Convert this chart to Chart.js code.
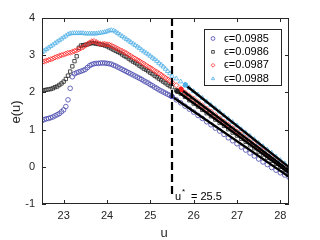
<!DOCTYPE html>
<html>
<head>
<meta charset="utf-8">
<script src="https://cdn.jsdelivr.net/npm/chart.js@4"></script>
<style>
  html, body { margin: 0; padding: 0; background: #fff; }
  canvas { display: block; }
</style>
</head>
<body>
<canvas id="myChart" width="320" height="240"></canvas>
<script>
// sample positions u
const uHead = [22.50, 22.55, 22.60, 22.65, 22.70, 22.75, 22.80, 22.85, 22.90, 22.95,
  23.00, 23.05, 23.10, 23.15, 23.20, 23.25, 23.30, 23.35, 23.40, 23.45,
  23.50, 23.55, 23.60, 23.65, 23.70, 23.75, 23.80, 23.85, 23.90, 23.95,
  24.00, 24.05, 24.10, 24.15, 24.20, 24.25, 24.30, 24.35, 24.40, 24.45,
  24.50, 24.55, 24.60, 24.65, 24.70, 24.75, 24.80, 24.85, 24.90, 24.95,
  25.00, 25.05, 25.10, 25.15, 25.20, 25.25, 25.30, 25.35, 25.40, 25.45,
  25.50];
const uTail = [25.6, 25.7, 25.8, 25.9, 26.0, 26.1, 26.2, 26.3, 26.4, 26.5,
  26.6, 26.7, 26.8, 26.9, 27.0, 27.1, 27.2, 27.3, 27.4, 27.5,
  27.6, 27.7, 27.8, 27.9, 28.0, 28.1, 28.2];
const u = uHead.concat(uTail);

// e(u) for each epsilon
const e0985 = [1.24, 1.27, 1.29, 1.30, 1.32, 1.34, 1.37, 1.40, 1.43, 1.48,
  1.53, 1.62, 1.80, 2.11, 2.42, 2.50, 2.53, 2.55, 2.57, 2.59,
  2.62, 2.67, 2.72, 2.75, 2.77, 2.78, 2.78, 2.79, 2.79, 2.79,
  2.78, 2.77, 2.76, 2.73, 2.71, 2.68, 2.65, 2.62, 2.59, 2.56,
  2.53, 2.50, 2.47, 2.44, 2.41, 2.38, 2.35, 2.31, 2.28, 2.25,
  2.21, 2.18, 2.14, 2.11, 2.07, 2.04, 2.01, 1.98, 1.95, 1.92,
  1.89,
  1.80, 1.72, 1.63, 1.55, 1.47, 1.38, 1.30, 1.21, 1.13, 1.04,
  0.96, 0.87, 0.78, 0.70, 0.62, 0.53, 0.45, 0.37, 0.29, 0.21,
  0.13, 0.06, -0.02, -0.09, -0.16, -0.22, -0.28];
const e0986 = [2.04, 2.06, 2.07, 2.08, 2.09, 2.11, 2.14, 2.16, 2.20, 2.24,
  2.29, 2.36, 2.45, 2.56, 2.70, 2.84, 2.97, 3.20, 3.26, 3.27,
  3.28, 3.29, 3.31, 3.33, 3.32, 3.31, 3.30, 3.29, 3.28, 3.26,
  3.24, 3.21, 3.18, 3.15, 3.12, 3.09, 3.06, 3.02, 2.98, 2.95,
  2.91, 2.87, 2.83, 2.80, 2.76, 2.72, 2.68, 2.64, 2.61, 2.57,
  2.53, 2.49, 2.45, 2.41, 2.37, 2.33, 2.29, 2.25, 2.21, 2.17,
  2.14,
  2.06, 1.97, 1.88, 1.79, 1.70, 1.62, 1.53, 1.44, 1.36, 1.27,
  1.18, 1.10, 1.01, 0.92, 0.84, 0.75, 0.67, 0.58, 0.50, 0.41,
  0.33, 0.24, 0.16, 0.08, 0.00, -0.08, -0.16];
const e0987 = [2.81, 2.83, 2.85, 2.87, 2.89, 2.91, 2.94, 2.96, 2.98, 3.00,
  3.02, 3.04, 3.06, 3.07, 3.09, 3.11, 3.13, 3.16, 3.19, 3.22,
  3.26, 3.30, 3.34, 3.37, 3.38, 3.35, 3.32, 3.30, 3.30, 3.30,
  3.29, 3.28, 3.26, 3.23, 3.20, 3.17, 3.14, 3.11, 3.08, 3.05,
  3.01, 2.98, 2.94, 2.91, 2.87, 2.84, 2.80, 2.77, 2.73, 2.69,
  2.66, 2.62, 2.58, 2.55, 2.51, 2.47, 2.43, 2.39, 2.35, 2.31,
  2.27,
  2.19, 2.10, 2.00, 1.91, 1.83, 1.74, 1.65, 1.56, 1.48, 1.39,
  1.30, 1.21, 1.13, 1.04, 0.95, 0.87, 0.78, 0.69, 0.61, 0.52,
  0.43, 0.35, 0.26, 0.17, 0.08, 0.00, -0.09];
const e0988 = [3.08, 3.12, 3.16, 3.20, 3.24, 3.28, 3.32, 3.36, 3.40, 3.44,
  3.48, 3.52, 3.56, 3.58, 3.59, 3.59, 3.59, 3.59, 3.59, 3.59,
  3.58, 3.58, 3.58, 3.58, 3.58, 3.58, 3.59, 3.60, 3.61, 3.62,
  3.64, 3.66, 3.67, 3.66, 3.63, 3.59, 3.55, 3.51, 3.47, 3.43,
  3.39, 3.35, 3.31, 3.27, 3.23, 3.19, 3.14, 3.10, 3.06, 3.02,
  2.98, 2.93, 2.89, 2.84, 2.79, 2.74, 2.69, 2.63, 2.57, 2.51,
  2.44,
  2.37, 2.29, 2.21, 2.12, 2.03, 1.94, 1.85, 1.75, 1.66, 1.57,
  1.48, 1.38, 1.29, 1.20, 1.11, 1.01, 0.92, 0.83, 0.74, 0.64,
  0.55, 0.46, 0.37, 0.27, 0.18, 0.09, 0.00];

const epsLabels = ['0.0985', '0.0986', '0.0987', '0.0988'];

// linear fits: start point (filled dot) and end value at the right edge
const fitU0 = [25.50, 25.62, 25.71, 25.81];
const fitE0 = [1.89, 2.03, 2.08, 2.20];
const fitU1 = 28.2;
const fitE1 = [-0.27, -0.17, -0.10, -0.01];

const uStar = 25.5;
const uStarBottom = -0.84;

const xTicks = [23, 24, 25, 26, 27, 28];
const yTicks = [-1, 0, 1, 2, 3, 4];

const series = [e0985, e0986, e0987, e0988];
const colors = ['#4646ad', '#222222', '#ff2020', '#4eaee6'];
const shapes = ['circle', 'rect', 'rectRot', 'triangle'];
const radii = [2.3, 2.4, 2.6, 2.6];
const fontFam = '"Liberation Sans", Arial, sans-serif';
const axisColor = '#262626';

const datasets = [];
series.forEach((vals, i) => {
  datasets.push({
    label: '\u03f5=' + epsLabels[i],
    data: u.map((x, k) => ({ x: x, y: vals[k] })),
    showLine: false,
    pointStyle: shapes[i],
    pointRadius: radii[i],
    pointBorderWidth: 0.8,
    borderColor: colors[i],
    backgroundColor: 'rgba(0,0,0,0)',
    order: 13 - i   // later series on top, as in the original
  });
});
series.forEach((vals, i) => {
  datasets.push({
    data: [{ x: fitU0[i], y: fitE0[i] }, { x: fitU1, y: fitE1[i] }],
    showLine: true,
    borderColor: '#000',
    borderWidth: 2.4,
    pointRadius: 0,
    order: 3
  });
});
series.forEach((vals, i) => {
  datasets.push({
    data: [{ x: fitU0[i], y: fitE0[i] }],
    showLine: false,
    pointStyle: 'circle',
    pointRadius: 2.6,
    pointBorderWidth: 0,
    backgroundColor: colors[i],
    borderColor: colors[i],
    order: 2
  });
});
datasets.push({
  data: [{ x: uStar, y: 4 }, { x: uStar, y: uStarBottom }],
  showLine: true,
  borderColor: '#000',
  borderWidth: 2.2,
  borderDash: [8, 4],
  pointRadius: 0,
  order: 1
});

const axesPlugin = {
  id: 'matlabAxes',
  afterDraw(chart) {
    const { ctx, chartArea: a, scales } = chart;
    const x = scales.x, y = scales.y;
    ctx.save();
    ctx.strokeStyle = axisColor;
    ctx.lineWidth = 1;
    ctx.strokeRect(a.left + 0.5, a.top + 0.5, a.right - a.left - 1, a.bottom - a.top - 1);

    ctx.beginPath();
    xTicks.forEach(v => {
      const px = Math.round(x.getPixelForValue(v)) + 0.5;
      ctx.moveTo(px, a.bottom); ctx.lineTo(px, a.bottom - 4);
      ctx.moveTo(px, a.top); ctx.lineTo(px, a.top + 4);
    });
    yTicks.forEach(v => {
      const py = Math.round(y.getPixelForValue(v)) + 0.5;
      ctx.moveTo(a.left, py); ctx.lineTo(a.left + 4, py);
      ctx.moveTo(a.right, py); ctx.lineTo(a.right - 4, py);
    });
    ctx.stroke();

    // axis titles
    ctx.fillStyle = axisColor;
    ctx.font = '13px ' + fontFam;
    ctx.textAlign = 'center';
    ctx.textBaseline = 'alphabetic';
    ctx.fillText('u', 164, 237);
    ctx.save();
    ctx.translate(20, 112);
    ctx.rotate(-Math.PI / 2);
    ctx.fillText('e(u)', 0, 0);
    ctx.restore();

    // u* label
    ctx.fillStyle = '#000';
    ctx.textAlign = 'left';
    ctx.font = '11px ' + fontFam;
    ctx.fillText('u', 175, 200);
    ctx.font = '8px ' + fontFam;
    ctx.fillText('*', 182, 194);
    ctx.font = '11px ' + fontFam;
    ctx.fillText('= 25.5', 191, 200);

    // legend
    const lx = 204, ly = 29, lw = 77, lh = 56;
    ctx.fillStyle = '#fff';
    ctx.fillRect(lx, ly, lw, lh);
    ctx.strokeStyle = axisColor;
    ctx.strokeRect(lx + 0.5, ly + 0.5, lw, lh);
    ctx.textBaseline = 'middle';
    ctx.font = '11px ' + fontFam;
    series.forEach((vals, i) => {
      const ry = 38.5 + i * 13.4;
      ctx.strokeStyle = colors[i];
      ctx.fillStyle = 'rgba(0,0,0,0)';
      ctx.lineWidth = 0.8;
      Chart.helpers.drawPoint(ctx, { pointStyle: shapes[i], radius: 1.9, borderWidth: 0.8, rotation: 0 }, 213, ry);
      ctx.fillStyle = '#000';
      ctx.fillText('\u03f5=' + epsLabels[i], 224, ry);
    });
    ctx.restore();
  }
};

new Chart(document.getElementById('myChart'), {
  type: 'scatter',
  data: { datasets: datasets },
  options: {
    responsive: false,
    animation: false,
    events: [],
    layout: { padding: { top: 18, right: 31, left: 0, bottom: 0 } },
    plugins: { legend: { display: false }, tooltip: { enabled: false } },
    scales: {
      x: {
        type: 'linear',
        min: 22.5,
        max: 28.2,
        afterBuildTicks: s => { s.ticks = xTicks.map(v => ({ value: v })); },
        afterFit: s => { s.height = 36; },
        grid: { display: false, drawTicks: false },
        border: { display: false },
        ticks: { color: axisColor, font: { family: fontFam, size: 11 }, padding: 5, maxRotation: 0, autoSkip: false }
      },
      y: {
        type: 'linear',
        min: -1,
        max: 4,
        afterBuildTicks: s => { s.ticks = yTicks.map(v => ({ value: v })); },
        afterFit: s => { s.width = 42; },
        grid: { display: false, drawTicks: false },
        border: { display: false },
        ticks: { color: axisColor, font: { family: fontFam, size: 11 }, padding: 7, autoSkip: false }
      }
    }
  },
  plugins: [axesPlugin]
});
</script>
</body>
</html>
